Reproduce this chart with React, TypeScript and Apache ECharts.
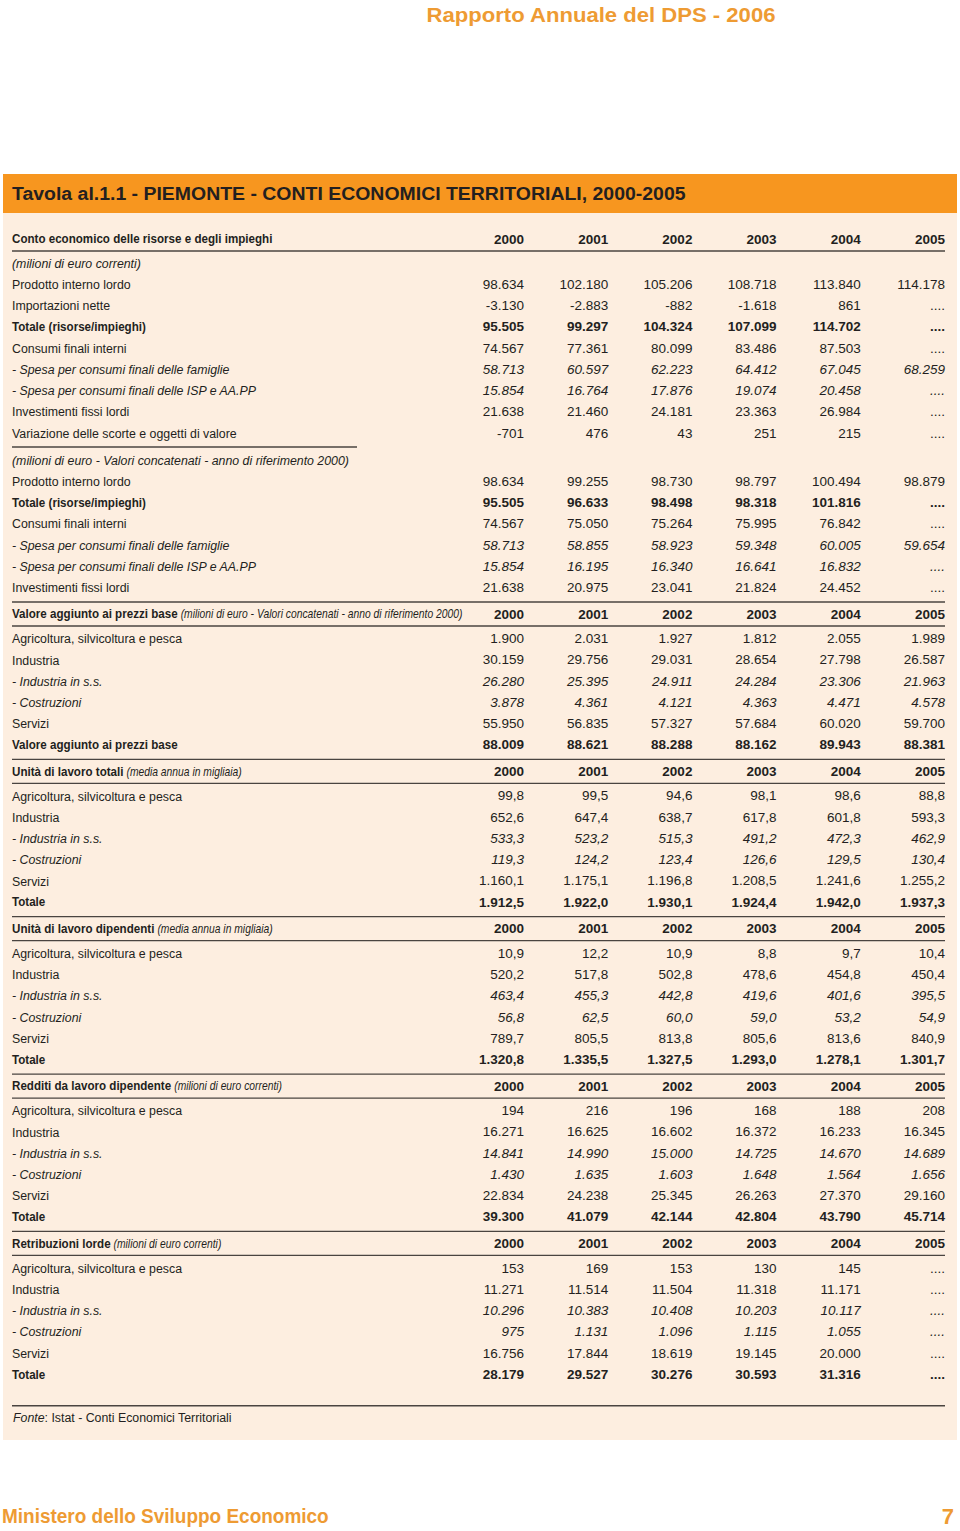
import React, { useEffect, useRef } from "react";
import * as echarts from "echarts";

// ---------- DATA ----------
const YEARS = ["2000", "2001", "2002", "2003", "2004", "2005"];

const CE_HEADER = "Conto economico delle risorse e degli impieghi";
const CE_CORR_NOTE = "(milioni di euro correnti)";
const CE_CORR_LABELS = [
  "Prodotto interno lordo",
  "Importazioni nette",
  "Totale (risorse/impieghi)",
  "Consumi finali interni",
  "- Spesa per consumi finali delle famiglie",
  "- Spesa per consumi finali delle ISP e AA.PP",
  "Investimenti fissi lordi",
  "Variazione delle scorte e oggetti di valore",
];
const CE_CORR_VALUES: (number | null)[][] = [
  [98634, 102180, 105206, 108718, 113840, 114178],
  [-3130, -2883, -882, -1618, 861, null],
  [95505, 99297, 104324, 107099, 114702, null],
  [74567, 77361, 80099, 83486, 87503, null],
  [58713, 60597, 62223, 64412, 67045, 68259],
  [15854, 16764, 17876, 19074, 20458, null],
  [21638, 21460, 24181, 23363, 26984, null],
  [-701, 476, 43, 251, 215, null],
];

const CE_CONC_NOTE = "(milioni di euro - Valori concatenati - anno di riferimento 2000)";
const CE_CONC_LABELS = [
  "Prodotto interno lordo",
  "Totale (risorse/impieghi)",
  "Consumi finali interni",
  "- Spesa per consumi finali delle famiglie",
  "- Spesa per consumi finali delle ISP e AA.PP",
  "Investimenti fissi lordi",
];
const CE_CONC_VALUES: (number | null)[][] = [
  [98634, 99255, 98730, 98797, 100494, 98879],
  [95505, 96633, 98498, 98318, 101816, null],
  [74567, 75050, 75264, 75995, 76842, null],
  [58713, 58855, 58923, 59348, 60005, 59654],
  [15854, 16195, 16340, 16641, 16832, null],
  [21638, 20975, 23041, 21824, 24452, null],
];

const SECTOR_LABELS = [
  "Agricoltura, silvicoltura e pesca",
  "Industria",
  "- Industria in s.s.",
  "- Costruzioni",
  "Servizi",
];

const VA_TITLE = "Valore aggiunto ai prezzi base";
const VA_NOTE = "(milioni di euro - Valori concatenati - anno di riferimento 2000)";
const VA_LABELS = [...SECTOR_LABELS, "Valore aggiunto ai prezzi base"];
const VA_VALUES: (number | null)[][] = [
  [1900, 2031, 1927, 1812, 2055, 1989],
  [30159, 29756, 29031, 28654, 27798, 26587],
  [26280, 25395, 24911, 24284, 23306, 21963],
  [3878, 4361, 4121, 4363, 4471, 4578],
  [55950, 56835, 57327, 57684, 60020, 59700],
  [88009, 88621, 88288, 88162, 89943, 88381],
];

const ULT_TITLE = "Unità di lavoro totali";
const ULT_NOTE = "(media annua in migliaia)";
const ULT_LABELS = [...SECTOR_LABELS, "Totale"];
const ULT_VALUES: (number | null)[][] = [
  [99.8, 99.5, 94.6, 98.1, 98.6, 88.8],
  [652.6, 647.4, 638.7, 617.8, 601.8, 593.3],
  [533.3, 523.2, 515.3, 491.2, 472.3, 462.9],
  [119.3, 124.2, 123.4, 126.6, 129.5, 130.4],
  [1160.1, 1175.1, 1196.8, 1208.5, 1241.6, 1255.2],
  [1912.5, 1922.0, 1930.1, 1924.4, 1942.0, 1937.3],
];

const ULD_TITLE = "Unità di lavoro dipendenti";
const ULD_NOTE = "(media annua in migliaia)";
const ULD_LABELS = [...SECTOR_LABELS, "Totale"];
const ULD_VALUES: (number | null)[][] = [
  [10.9, 12.2, 10.9, 8.8, 9.7, 10.4],
  [520.2, 517.8, 502.8, 478.6, 454.8, 450.4],
  [463.4, 455.3, 442.8, 419.6, 401.6, 395.5],
  [56.8, 62.5, 60.0, 59.0, 53.2, 54.9],
  [789.7, 805.5, 813.8, 805.6, 813.6, 840.9],
  [1320.8, 1335.5, 1327.5, 1293.0, 1278.1, 1301.7],
];

const RED_TITLE = "Redditi da lavoro dipendente";
const RED_NOTE = "(milioni di euro correnti)";
const RED_LABELS = [...SECTOR_LABELS, "Totale"];
const RED_VALUES: (number | null)[][] = [
  [194, 216, 196, 168, 188, 208],
  [16271, 16625, 16602, 16372, 16233, 16345],
  [14841, 14990, 15000, 14725, 14670, 14689],
  [1430, 1635, 1603, 1648, 1564, 1656],
  [22834, 24238, 25345, 26263, 27370, 29160],
  [39300, 41079, 42144, 42804, 43790, 45714],
];

const RET_TITLE = "Retribuzioni lorde";
const RET_NOTE = "(milioni di euro correnti)";
const RET_LABELS = [...SECTOR_LABELS, "Totale"];
const RET_VALUES: (number | null)[][] = [
  [153, 169, 153, 130, 145, null],
  [11271, 11514, 11504, 11318, 11171, null],
  [10296, 10383, 10408, 10203, 10117, null],
  [975, 1131, 1096, 1115, 1055, null],
  [16756, 17844, 18619, 19145, 20000, null],
  [28179, 29527, 30276, 30593, 31316, null],
];

const PAGE_TITLE = "Rapporto Annuale del DPS - 2006";
const TABLE_TITLE = "Tavola al.1.1 - PIEMONTE - CONTI ECONOMICI TERRITORIALI, 2000-2005";
const SOURCE_ITALIC = "Fonte";
const SOURCE_TEXT = ": Istat - Conti Economici Territoriali";
const FOOTER = "Ministero dello Sviluppo Economico";
const PAGE_NUMBER = "7";

const BOLD_LABELS = ["Totale (risorse/impieghi)", "Valore aggiunto ai prezzi base", "Totale"];

// ---------- STYLE / LAYOUT ----------
const FONT = '"Liberation Sans", Arial, sans-serif';
const INK = "#231f20";
const ORANGE = "#f7961f";
const ORANGE_TEXT = "#ee9b33";
const PANEL = "#fdeee0";
const RULE = "#4a4440";
const LEFT = 12;
const RIGHT = 945;
const COL0 = 524;
const COL_STEP = (RIGHT - COL0) / 5;
const ROW = 21.25;
const FS = 13.5;
const SX = 0.915;
const SX_BOLD = 0.86;

function fmt(v: number | null, dec: number): string {
  if (v === null) return "....";
  const neg = v < 0;
  const s = Math.abs(v).toFixed(dec);
  const [ip, dp] = s.split(".");
  const grouped = ip.replace(/\B(?=(\d{3})+(?!\d))/g, ".");
  return (neg ? "-" : "") + grouped + (dp ? "," + dp : "");
}

let measureCtx: CanvasRenderingContext2D | null = null;
function measure(text: string, font: string): number {
  if (!measureCtx) measureCtx = document.createElement("canvas").getContext("2d");
  measureCtx!.font = font;
  return measureCtx!.measureText(text).width;
}

type TOpts = {
  size?: number;
  weight?: string;
  italic?: boolean;
  align?: string;
  color?: string;
  scale?: number;
};
function txt(x: number, y: number, text: string, o: TOpts = {}) {
  const align = o.align || "left";
  return {
    type: "text",
    x,
    y,
    scaleX: o.scale ?? 1,
    silent: true,
    style: {
      text,
      x: 0,
      y: 0,
      fill: o.color || INK,
      fontSize: o.size || FS,
      fontWeight: o.weight || "normal",
      fontStyle: o.italic ? "italic" : "normal",
      fontFamily: FONT,
      align,
      textAlign: align,
      verticalAlign: "middle",
      textVerticalAlign: "middle",
    },
  };
}
function rule(x1: number, x2: number, y: number) {
  return {
    type: "line",
    silent: true,
    shape: { x1, y1: y, x2, y2: y },
    style: { stroke: RULE, lineWidth: 1.3 },
  };
}
function colX(i: number) {
  return COL0 + i * COL_STEP;
}

function buildElements() {
  const els: any[] = [];
  // page header
  const pt = `bold 21px ${FONT}`;
  els.push(
    txt(601, 15, PAGE_TITLE, { size: 21, weight: "bold", align: "center", color: ORANGE_TEXT, scale: 350 / measure(PAGE_TITLE, pt) })
  );
  // panel and title bar
  els.push({ type: "rect", silent: true, shape: { x: 3, y: 174, width: 954, height: 1266 }, style: { fill: PANEL } });
  els.push({ type: "rect", silent: true, shape: { x: 3, y: 174, width: 954, height: 39 }, style: { fill: ORANGE } });
  const tt = `bold 19px ${FONT}`;
  els.push(txt(LEFT, 194, TABLE_TITLE, { size: 19, weight: "bold", scale: 674 / measure(TABLE_TITLE, tt) }));

  const rowEls = (y: number, label: string, vals: (number | null)[], dec: number) => {
    const bold = BOLD_LABELS.includes(label);
    const italic = label.startsWith("- ");
    els.push(txt(LEFT, y, label, { weight: bold ? "bold" : "normal", italic, scale: bold ? SX_BOLD : SX }));
    vals.forEach((v, i) => {
      els.push(txt(colX(i), y, fmt(v, dec), { align: "right", weight: bold ? "bold" : "normal", italic }));
    });
  };
  const yearsRow = (y: number) => {
    YEARS.forEach((yr, i) => els.push(txt(colX(i), y, yr, { align: "right", weight: "bold" })));
  };
  const sectionHeader = (y: number, title: string, note: string | null) => {
    const text = note ? `{t|${title}} {n|${note}}` : `{t|${title}}`;
    els.push({
      type: "text",
      x: LEFT,
      y,
      scaleX: SX_BOLD,
      silent: true,
      style: {
        text,
        x: 0,
        y: 0,
        fill: INK,
        fontFamily: FONT,
        align: "left",
        textAlign: "left",
        verticalAlign: "middle",
        textVerticalAlign: "middle",
        rich: {
          t: { fontSize: FS, fontWeight: "bold", fontFamily: FONT, fill: INK, color: INK },
          n: { fontSize: 12, fontStyle: "italic", fontFamily: FONT, fill: INK, color: INK },
        },
      },
    });
    yearsRow(y);
  };

  // Section 1: conto economico
  let y = 239;
  sectionHeader(y, CE_HEADER, null);
  els.push(rule(LEFT, RIGHT, y + 12));
  y += 24;
  els.push(txt(LEFT, y, CE_CORR_NOTE, { italic: true, scale: SX }));
  CE_CORR_LABELS.forEach((lab, r) => {
    y += ROW;
    rowEls(y, lab, CE_CORR_VALUES[r], 0);
  });
  els.push(rule(LEFT, 357, y + 14));
  y += 27;
  els.push(txt(LEFT, y, CE_CONC_NOTE, { italic: true, scale: SX }));
  CE_CONC_LABELS.forEach((lab, r) => {
    y += ROW;
    rowEls(y, lab, CE_CONC_VALUES[r], 0);
  });

  const sections: [string, string, string[], (number | null)[][], number][] = [
    [VA_TITLE, VA_NOTE, VA_LABELS, VA_VALUES, 0],
    [ULT_TITLE, ULT_NOTE, ULT_LABELS, ULT_VALUES, 1],
    [ULD_TITLE, ULD_NOTE, ULD_LABELS, ULD_VALUES, 1],
    [RED_TITLE, RED_NOTE, RED_LABELS, RED_VALUES, 0],
    [RET_TITLE, RET_NOTE, RET_LABELS, RET_VALUES, 0],
  ];
  sections.forEach(([title, note, labels, values, dec]) => {
    y += 26.5;
    els.push(rule(LEFT, RIGHT, y - 12));
    sectionHeader(y, title, note);
    els.push(rule(LEFT, RIGHT, y + 12));
    y += 24.6 - ROW;
    labels.forEach((lab, r) => {
      y += ROW;
      rowEls(y, lab, values[r], dec);
    });
  });

  // source
  els.push(rule(LEFT, RIGHT, y + 31.5));
  els.push({
    type: "text",
    x: LEFT + 1,
    y: y + 43.5,
    scaleX: SX,
    silent: true,
    style: {
      text: `{i|${SOURCE_ITALIC}}{r|${SOURCE_TEXT}}`,
      x: 0,
      y: 0,
      fill: INK,
      fontFamily: FONT,
      align: "left",
      textAlign: "left",
      verticalAlign: "middle",
      textVerticalAlign: "middle",
      rich: {
        i: { fontSize: FS, fontStyle: "italic", fontFamily: FONT, fill: INK, color: INK },
        r: { fontSize: FS, fontFamily: FONT, fill: INK, color: INK },
      },
    },
  });

  // footer
  const ft = `bold 21px ${FONT}`;
  els.push(txt(2, 1516, FOOTER, { size: 21, weight: "bold", color: ORANGE_TEXT, scale: 327 / measure(FOOTER, ft) }));
  els.push(txt(954, 1516, PAGE_NUMBER, { size: 22, weight: "bold", color: ORANGE_TEXT, align: "right" }));
  return els;
}

export default function App() {
  const ref = useRef<HTMLDivElement>(null);
  useEffect(() => {
    document.body.style.margin = "0";
    const chart = echarts.init(ref.current!, null, { renderer: "svg" });
    chart.setOption({
      animation: false,
      graphic: { elements: buildElements() },
    });
    return () => chart.dispose();
  }, []);
  return <div ref={ref} style={{ width: 960, height: 1531, background: "#fff" }} />;
}
